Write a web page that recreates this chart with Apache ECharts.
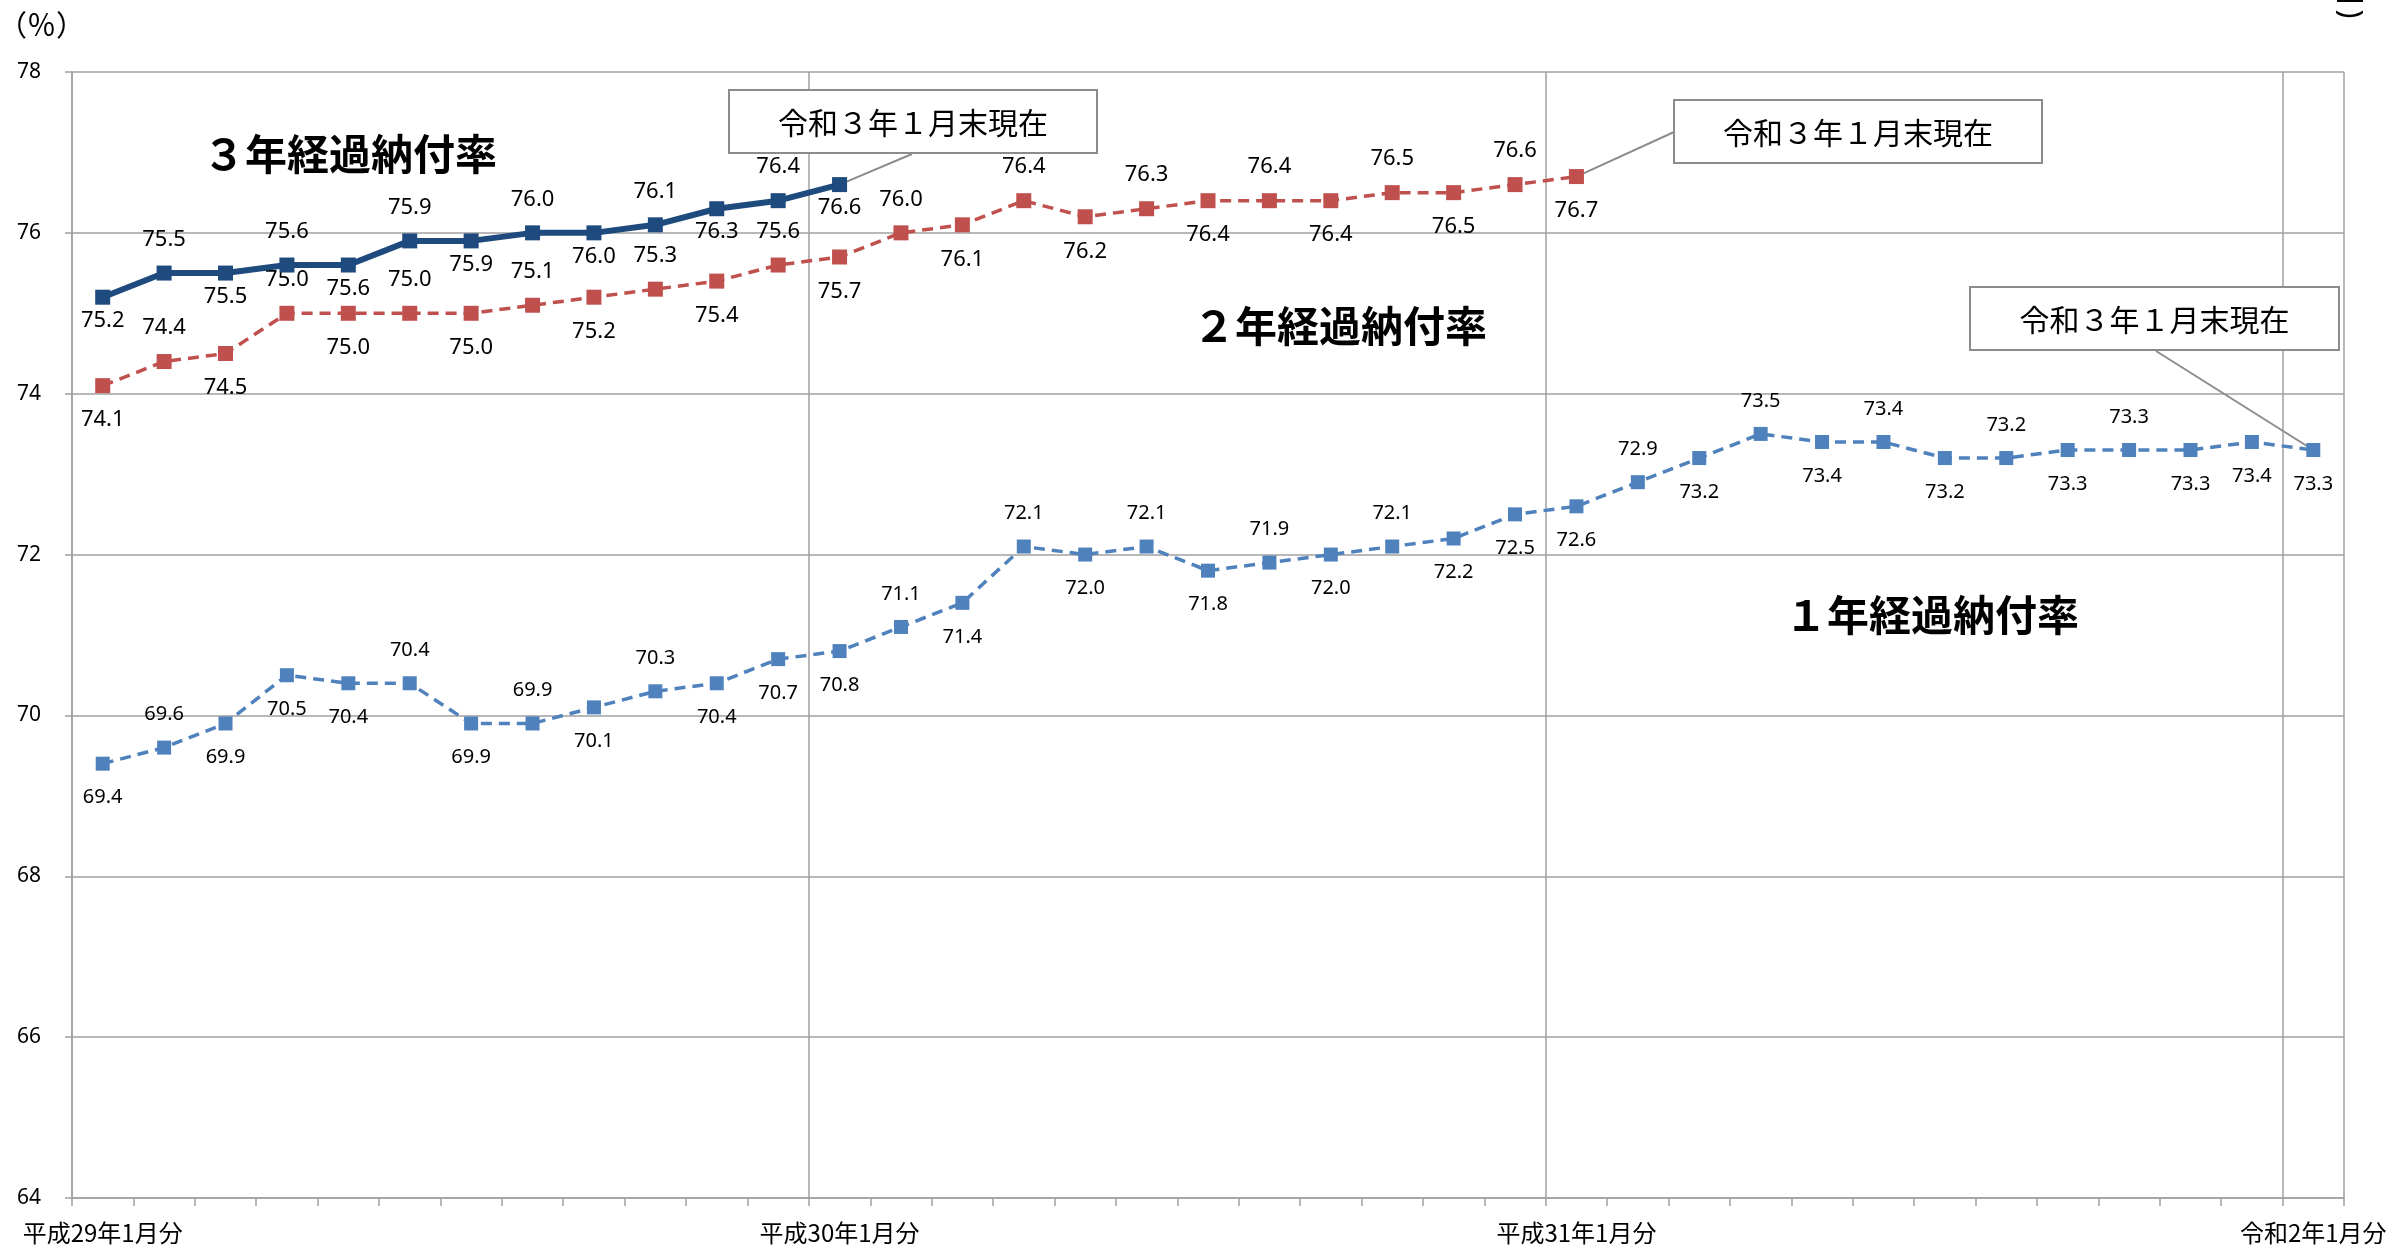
<!DOCTYPE html>
<html>
<head>
<meta charset="utf-8">
<script src="https://cdn.jsdelivr.net/npm/echarts@6/dist/echarts.min.js"></script>
<style>
html,body{margin:0;padding:0;background:#fff;}
#c{width:2394px;height:1247px;}
</style>
</head>
<body>
<div id="c"></div>
<script>
// ---- data ----
const categories = [
  '平成29年1月分','平成29年2月分','平成29年3月分','平成29年4月分','平成29年5月分','平成29年6月分',
  '平成29年7月分','平成29年8月分','平成29年9月分','平成29年10月分','平成29年11月分','平成29年12月分',
  '平成30年1月分','平成30年2月分','平成30年3月分','平成30年4月分','平成30年5月分','平成30年6月分',
  '平成30年7月分','平成30年8月分','平成30年9月分','平成30年10月分','平成30年11月分','平成30年12月分',
  '平成31年1月分','平成31年2月分','平成31年3月分','平成31年4月分','令和元年5月分','令和元年6月分',
  '令和元年7月分','令和元年8月分','令和元年9月分','令和元年10月分','令和元年11月分','令和元年12月分',
  '令和2年1月分'
];
const rate3yr = [75.2,75.5,75.5,75.6,75.6,75.9,75.9,76.0,76.0,76.1,76.3,76.4,76.6];
const rate2yr = [74.1,74.4,74.5,75.0,75.0,75.0,75.0,75.1,75.2,75.3,75.4,75.6,75.7,
                 76.0,76.1,76.4,76.2,76.3,76.4,76.4,76.4,76.5,76.5,76.6,76.7];
const rate1yr = [69.4,69.6,69.9,70.5,70.4,70.4,69.9,69.9,70.1,70.3,
                 70.4,70.7,70.8,71.1,71.4,72.1,72.0,72.1,71.8,71.9,
                 72.0,72.1,72.2,72.5,72.6,72.9,73.2,73.5,73.4,73.4,
                 73.2,73.2,73.3,73.3,73.3,73.4,73.3];
const yMin = 64, yMax = 78, yStep = 2;
const seriesNames = ['３年経過納付率','２年経過納付率','１年経過納付率'];
const calloutText = '令和３年１月末現在';
const unitText = '（％）';

// ---- label placement (style) : t = above, b = below ----
const pos3 = 'btbtbtbtbtbtb';
const pos2 = 'btbtbtbtbtbtbtbtbtbtbtbtb';
const pos1 = 'btbbbtbtbt' + 'bbbtbtbtbt' + 'btbbbtbtbt' + 'btbtbbb';

const C3 = '#1F4A7E', C2 = '#C0504D', C1 = '#4F81BD';
const GRID = '#a0a0a0';
const NUMFONT = '"Noto Sans", "Noto Sans CJK JP", sans-serif';
const JPFONT = '"Noto Sans CJK JP", "Noto Sans", sans-serif';

function mkData(vals, pos, dTop, dBot) {
  return vals.map((v, i) => ({
    value: v,
    label: { position: pos[i] === 't' ? 'top' : 'bottom', distance: pos[i] === 't' ? dTop : dBot }
  }));
}
const fmt = p => Number(p.value).toFixed(1);

const chart = echarts.init(document.getElementById('c'), null, { renderer: 'canvas' });

const option = {
  animation: false,
  backgroundColor: '#fff',
  grid: { left: 72, right: 50, top: 72, bottom: 49, containLabel: false },
  xAxis: {
    type: 'category',
    data: categories,
    boundaryGap: true,
    axisLine: { show: true, lineStyle: { color: GRID, width: 1.5 } },
    axisTick: { show: true, interval: 0, length: 8, lineStyle: { color: GRID, width: 1.5 } },
    axisLabel: { interval: 11, fontSize: 24, color: '#000', fontFamily: JPFONT, margin: 23 },
    splitLine: { show: true, interval: 11, lineStyle: { color: GRID, width: 1.5 } }
  },
  yAxis: {
    type: 'value',
    min: yMin, max: yMax, interval: yStep,
    axisLine: { show: true, lineStyle: { color: GRID, width: 1.5 } },
    axisTick: { show: true, length: 7, lineStyle: { color: GRID, width: 1.5 } },
    axisLabel: { fontSize: 21, color: '#000', fontFamily: NUMFONT, margin: 31 },
    splitLine: { show: true, lineStyle: { color: GRID, width: 1.5 } }
  },
  series: [
    {
      name: seriesNames[0], type: 'line', z: 4,
      data: mkData(rate3yr, pos3, 15, 5),
      symbol: 'rect', symbolSize: 15,
      itemStyle: { color: C3 },
      lineStyle: { color: C3, width: 6 },
      label: { show: true, formatter: fmt, fontSize: 22, color: '#000', fontFamily: NUMFONT }
    },
    {
      name: seriesNames[1], type: 'line', z: 3,
      data: mkData(rate2yr, pos2, 15, 16),
      symbol: 'rect', symbolSize: 15,
      itemStyle: { color: C2 },
      lineStyle: { color: C2, width: 3.5, type: [11, 7] },
      label: { show: true, formatter: fmt, fontSize: 22, color: '#000', fontFamily: NUMFONT }
    },
    {
      name: seriesNames[2], type: 'line', z: 3,
      data: mkData(rate1yr, pos1, 16, 17),
      symbol: 'rect', symbolSize: 14,
      itemStyle: { color: C1 },
      lineStyle: { color: C1, width: 3.5, type: [11, 7] },
      label: { show: true, formatter: fmt, fontSize: 20, color: '#000', fontFamily: NUMFONT }
    }
  ]
};
chart.setOption(option);

// anchor points of the callouts (computed through the chart's own scales)
const p3 = chart.convertToPixel({ gridIndex: 0 }, [rate3yr.length - 1, rate3yr[rate3yr.length - 1]]);
const p2 = chart.convertToPixel({ gridIndex: 0 }, [rate2yr.length - 1, rate2yr[rate2yr.length - 1]]);
const p1 = chart.convertToPixel({ gridIndex: 0 }, [rate1yr.length - 1, rate1yr[rate1yr.length - 1]]);

function box(x, y, w, h) {
  return [
    { type: 'rect', z: 10, shape: { x: x, y: y, width: w, height: h },
      style: { fill: '#fff', stroke: '#8c8c8c', lineWidth: 2 } },
    { type: 'text', z: 11, x: x + w / 2, y: y + h / 2 + 1,
      style: { text: calloutText, fontSize: 30, fontFamily: JPFONT, fill: '#000',
               align: 'center', verticalAlign: 'middle', textAlign: 'center', textVerticalAlign: 'middle' } }
  ];
}
function conn(x1, y1, p) {
  return { type: 'line', z: 1, shape: { x1: x1, y1: y1, x2: p[0], y2: p[1] },
           style: { stroke: '#8c8c8c', lineWidth: 2 } };
}
function title(t, x, y) {
  return { type: 'text', z: 10, x: x, y: y,
    style: { text: t, fontSize: 42, fontWeight: 'bold', fontFamily: JPFONT, fill: '#000',
             align: 'center', verticalAlign: 'middle', textAlign: 'center', textVerticalAlign: 'middle' } };
}

chart.setOption({
  graphic: [].concat(
    [conn(912, 154, p3), conn(1674, 132, p2), conn(2156, 351, p1)],
    box(729, 90, 368, 63),
    box(1674, 100, 368, 63),
    box(1970, 287, 369, 63),
    [
      title(seriesNames[0], 350, 154),
      title(seriesNames[1], 1340, 326),
      title(seriesNames[2], 1932, 615),
      { type: 'text', z: 10, x: -2, y: 25,
        style: { text: unitText, fontSize: 29, fontFamily: JPFONT, fill: '#000',
                 align: 'left', verticalAlign: 'middle', textAlign: 'left', textVerticalAlign: 'middle' } },
      { type: 'text', z: 10, x: 2350, y: 14, rotation: -Math.PI / 2,
        style: { text: ')', fontSize: 30, fontFamily: NUMFONT, fill: '#000',
                 align: 'center', verticalAlign: 'middle', textAlign: 'center', textVerticalAlign: 'middle' } },
      { type: 'line', z: 10, shape: { x1: 2337, y1: 1, x2: 2363, y2: 1 }, style: { stroke: '#000', lineWidth: 2 } }
    ]
  )
});
</script>
</body>
</html>
